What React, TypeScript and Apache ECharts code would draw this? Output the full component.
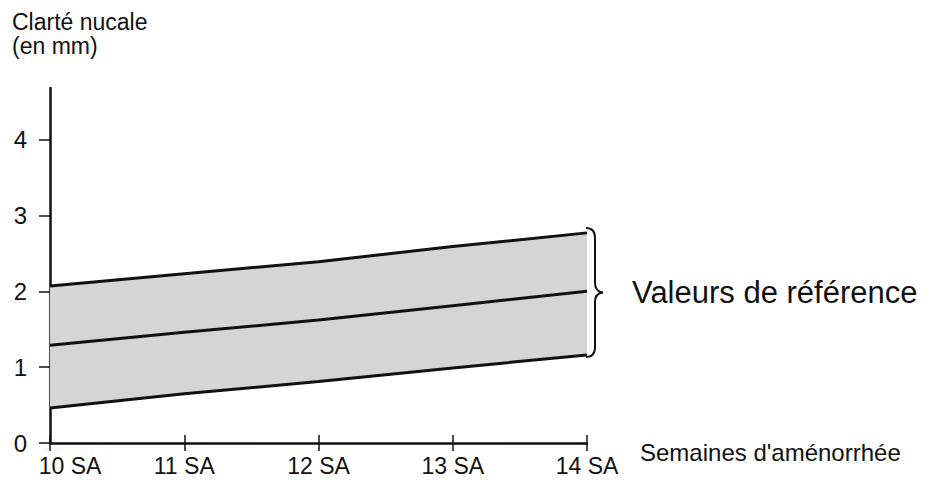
import React, { useEffect, useRef } from "react";
import * as echarts from "echarts";

const weeks = [10, 11, 12, 13, 14];
const upper = [2.07, 2.23, 2.39, 2.59, 2.77];
const median = [1.29, 1.46, 1.62, 1.81, 2.0];
const lower = [0.46, 0.65, 0.81, 0.99, 1.16];
const yTicks = [0, 1, 2, 3, 4];
const yTitle = ["Clarté nucale", "(en mm)"];
const xTitle = "Semaines d'aménorrhée";
const bandLabel = "Valeurs de référence";

const FONT = "'Liberation Sans', Arial, sans-serif";
const INK = "#111";

const BRACE_D =
  "M0,0 C6,0 9,3 9,10 L9,55 C9,61 12,64 17,64.5 C12,65 9,68 9,74 L9,119 C9,126 6,129 0,129";
let registered = false;

export default function App() {
  const ref = useRef<HTMLDivElement>(null);
  useEffect(() => {
    if (!ref.current) return;
    if (!registered) {
      echarts.graphic.registerShape("brace", echarts.graphic.extendPath(BRACE_D, {}));
      registered = true;
    }
    const chart = echarts.init(ref.current, undefined, { renderer: "svg" });
    const pairs = (ys: number[]) => weeks.map((w, i) => [w, ys[i]]);
    const lineSeries = (name: string, ys: number[]) => ({
      name,
      type: "line",
      data: pairs(ys),
      symbol: "none",
      lineStyle: { color: INK, width: 3 },
      z: 5,
    });
    chart.setOption({
      animation: false,
      grid: { left: 50, right: 343, top: 88, bottom: 45 },
      xAxis: [
        {
          type: "value",
          min: 10,
          max: 14,
          interval: 1,
          axisLine: { show: true, lineStyle: { color: INK, width: 2.5 } },
          axisTick: { show: true, length: 8, lineStyle: { color: INK, width: 1.5 } },
          splitLine: { show: false },
          axisLabel: {
            margin: 11,
            fontSize: 23,
            color: INK,
            fontFamily: FONT,
            formatter: (v: number) => (v === 10 ? "{first|10 SA}" : `${v} SA`),
            rich: {
              first: { fontSize: 23, color: INK, fontFamily: FONT, padding: [0, 0, 0, 40] },
            },
          },
          name: xTitle,
          nameLocation: "end",
          nameGap: 53,
          nameTextStyle: {
            fontSize: 24,
            color: INK,
            fontFamily: FONT,
            verticalAlign: "top",
            align: "left",
            lineHeight: 18,
          },
        },
        {
          type: "value",
          min: 10,
          max: 14,
          interval: 1,
          position: "bottom",
          axisLine: { show: false },
          axisTick: { show: true, inside: true, length: 8, lineStyle: { color: INK, width: 1.5 } },
          axisLabel: { show: false },
          splitLine: { show: false },
        },
      ],
      yAxis: {
        type: "value",
        min: 0,
        max: 4.68,
        axisLine: { show: true, lineStyle: { color: INK, width: 2.5 } },
        axisTick: {
          show: true,
          length: 11,
          customValues: yTicks,
          lineStyle: { color: INK, width: 1.5 },
        },
        axisLabel: {
          customValues: yTicks,
          margin: 23,
          fontSize: 24,
          color: INK,
          fontFamily: FONT,
        },
        splitLine: { show: false },
      },
      series: [
        {
          name: "Zone de référence",
          type: "custom",
          data: [0],
          silent: true,
          z: 1,
          renderItem: (_params: any, api: any) => {
            const top = weeks.map((w, i) => api.coord([w, upper[i]]));
            const bottom = weeks.map((w, i) => api.coord([w, lower[i]])).reverse();
            return {
              type: "polygon",
              shape: { points: top.concat(bottom) },
              style: { fill: "#d5d5d5", stroke: "none" },
            };
          },
        },
        lineSeries("Limite haute", upper),
        lineSeries("Médiane", median),
        lineSeries("Limite basse", lower),
      ],
    });

    const top = chart.convertToPixel({ xAxisIndex: 0, yAxisIndex: 0 }, [weeks[4], upper[4]]) as number[];
    const bot = chart.convertToPixel({ xAxisIndex: 0, yAxisIndex: 0 }, [weeks[4], lower[4]]) as number[];
    const braceTop = top[1] - 5;
    const braceH = bot[1] - top[1] + 7;
    const braceX = top[0] - 1;
    chart.setOption({
      graphic: [
        {
          type: "text",
          left: 12,
          top: 10,
          style: {
            text: yTitle.join("\n"),
            fontSize: 23,
            lineHeight: 24,
            fill: INK,
            fontFamily: FONT,
          },
        },
        {
          type: "brace",
          x: braceX,
          y: braceTop,
          scaleY: braceH / 129,
          style: { fill: "none", stroke: INK, lineWidth: 2 },
        },
        {
          type: "text",
          x: braceX + 46,
          y: braceTop + braceH / 2,
          style: {
            text: bandLabel,
            fontSize: 31,
            fill: INK,
            fontFamily: FONT,
            verticalAlign: "middle",
          },
        },
      ],
    });
    return () => chart.dispose();
  }, []);
  return (
    <div
      ref={ref}
      style={{ position: "fixed", left: 0, top: 0, width: 930, height: 488, background: "#fff" }}
    />
  );
}
